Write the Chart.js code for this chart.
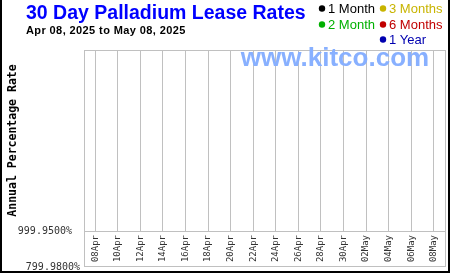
<!DOCTYPE html>
<html>
<head>
<meta charset="utf-8">
<script src="https://cdn.jsdelivr.net/npm/chart.js@4/dist/chart.umd.min.js"></script>
<style>
  html, body { margin: 0; padding: 0; background: #fff; }
  #wrap { width: 450px; height: 275px; }
</style>
</head>
<body>
<div id="wrap"><canvas id="myChart" width="450" height="275"></canvas></div>
<script>
// Dates shown on the x axis (every second day, index 0 = Apr 08)
const tickLabels = ["08Apr", "10Apr", "12Apr", "14Apr", "16Apr", "18Apr", "20Apr", "22Apr",
  "24Apr", "26Apr", "28Apr", "30Apr", "02May", "04May", "06May", "08May"];

// No lease rates are plotted in the picture: the series are empty
const oneMonth = [];
const twoMonth = [];
const threeMonths = [];
const sixMonths = [];
const oneYear = [];

const yTicks = [999.95];      // tick on the chart area
const yLowLabel = "799.9800%"; // label printed at the bottom of the frame

const seriesNames = ["1 Month", "2 Month", "3 Months", "6 Months", "1 Year"];
const seriesColors = ["#000000", "#00b000", "#c8b400", "#c00000", "#0000b0"];
const seriesData = [oneMonth, twoMonth, threeMonths, sixMonths, oneYear];

const mono = "'DejaVu Sans Mono', monospace";
const sans = "'Liberation Sans', Arial, sans-serif";

// titles, legend, watermark and frame
const decor = {
  id: "decor",
  beforeDraw(chart) {
    const c = chart.ctx;
    c.save();
    c.fillStyle = "#fff";
    c.fillRect(0, 0, chart.width, chart.height);
    c.restore();
  },
  afterDraw(chart) {
    const c = chart.ctx;
    const a = chart.chartArea;
    c.save();
    // plot frame
    c.strokeStyle = "#c0c0c0";
    c.lineWidth = 1;
    c.strokeRect(a.left + 0.5, a.top + 0.5, a.right - a.left, 266 - a.top);
    c.beginPath();
    c.moveTo(a.left, a.bottom + 0.5);
    c.lineTo(a.right, a.bottom + 0.5);
    c.stroke();

    // low y label
    c.fillStyle = "#333";
    c.font = "10px " + mono;
    c.textAlign = "right";
    c.textBaseline = "middle";
    c.fillText(yLowLabel, a.left - 4, 267);

    // watermark
    c.fillStyle = "#88b0ff";
    c.font = "bold 26px " + sans;
    c.textAlign = "center";
    c.textBaseline = "alphabetic";
    c.fillText("www.kitco.com", 335, 66);

    // titles
    c.textAlign = "left";
    c.fillStyle = "#0000ff";
    c.font = "bold 19.5px " + sans;
    c.fillText("30 Day Palladium Lease Rates", 26, 19);
    c.fillStyle = "#000";
    c.font = "bold 11px " + sans;
    c.letterSpacing = "0.4px";
    c.fillText("Apr 08, 2025 to May 08, 2025", 26, 34);
    c.letterSpacing = "0px";

    // legend, column by column
    const spots = [[322, 8], [322, 24], [383, 8], [383, 24], [383, 39]];
    c.font = "13px " + sans;
    c.textBaseline = "middle";
    chart.data.datasets.forEach((ds, i) => {
      const [x, y] = spots[i];
      c.fillStyle = ds.borderColor;
      c.beginPath();
      c.arc(x, y + 0.5, 3.2, 0, Math.PI * 2);
      c.fill();
      c.fillText(ds.label, x + 6, y + 1);
    });

    // outer border
    c.fillStyle = "#000";
    c.fillRect(0, 0, 2, 273);
    c.fillRect(448, 0, 2, 273);
    c.fillRect(0, 271, 450, 2);
    c.restore();
  }
};

const ctx = document.getElementById("myChart");

new Chart(ctx, {
  type: "line",
  data: {
    datasets: seriesData.map((d, i) => ({
      label: seriesNames[i],
      data: d,
      borderColor: seriesColors[i],
      backgroundColor: seriesColors[i],
      pointRadius: 0
    }))
  },
  options: {
    responsive: false,
    animation: false,
    layout: { padding: { top: 50, right: 5, bottom: 0, left: 0 } },
    plugins: {
      legend: { display: false },
      tooltip: { enabled: false }
    },
    scales: {
      x: {
        type: "linear",
        min: -1,
        max: 31,
        afterBuildTicks: (s) => { s.ticks = tickLabels.map((_, i) => ({ value: i * 2 })); },
        afterFit: (s) => { s.height = 44; },
        grid: { color: "#c0c0c0", drawTicks: false },
        border: { display: false },
        ticks: {
          autoSkip: false,
          minRotation: 90,
          maxRotation: 90,
          padding: 4,
          color: "#333",
          font: { family: mono, size: 9 },
          callback: (v) => tickLabels[v / 2]
        }
      },
      y: {
        min: 999.95,
        max: 1000,
        afterBuildTicks: (s) => { s.ticks = yTicks.map((v) => ({ value: v })); },
        afterFit: (s) => { s.width = 84; },
        grid: { display: false },
        border: { display: false },
        title: {
          display: true,
          text: "Annual Percentage Rate",
          color: "#000",
          font: { family: mono, size: 11.5, weight: "bold" },
          padding: { top: 6, bottom: 0 }
        },
        ticks: {
          padding: 4,
          color: "#333",
          font: { family: mono, size: 10 },
          callback: (v) => v.toFixed(4) + "%"
        }
      }
    }
  },
  plugins: [decor]
});
</script>
</body>
</html>
